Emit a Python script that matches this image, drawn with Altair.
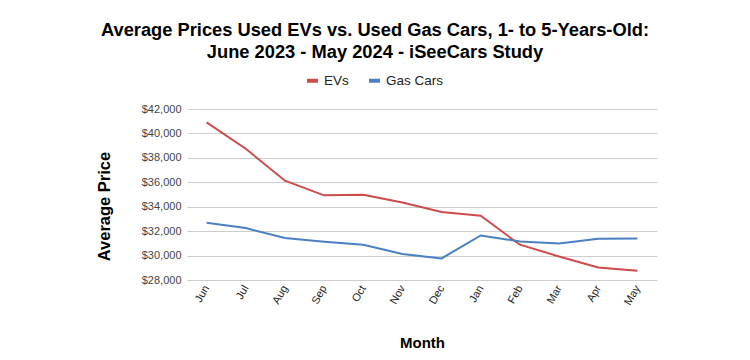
import altair as alt
import pandas as pd

months = ["Jun", "Jul", "Aug", "Sep", "Oct", "Nov", "Dec", "Jan", "Feb", "Mar", "Apr", "May"]
ev_prices = [40900, 38750, 36130, 34930, 34980, 34350, 33560, 33260, 30890, 29930, 29030, 28760]
gas_prices = [32690, 32250, 31440, 31130, 30890, 30130, 29770, 31650, 31160, 30990, 31380, 31400]
series_names = ["EVs", "Gas Cars"]
series_colors = ["#cc4b4b", "#4a7fc4"]

rows = []
for m, e, g in zip(months, ev_prices, gas_prices):
    rows.append({"Month": m, "Series": "EVs", "Price": e})
    rows.append({"Month": m, "Series": "Gas Cars", "Price": g})
df = pd.DataFrame(rows)

chart = alt.Chart(df).mark_line(strokeWidth=2).encode(
    x=alt.X("Month:N", sort=months,
            scale=alt.Scale(type="point", padding=0.5),
            axis=alt.Axis(title="Month", labelAngle=300, labelFontSize=11, labelColor="#222222",
                          labelFont="Liberation Sans", ticks=False, domain=False, grid=False,
                          titleFont="Liberation Sans", titleFontSize=15, titleFontWeight="bold",
                          titleColor="#000000", labelPadding=6, titlePadding=29)),
    y=alt.Y("Price:Q",
            scale=alt.Scale(domain=[28000, 42000], nice=False, zero=False),
            axis=alt.Axis(title="Average Price", format="$,.0f", values=list(range(28000, 42001, 2000)),
                          labelFontSize=11, labelColor="#444444", labelFont="Liberation Sans",
                          ticks=False, domain=False, gridColor="#cccccc", gridWidth=1,
                          titleFont="Liberation Sans", titleFontSize=16.5, titleFontWeight="bold",
                          titleColor="#000000", labelPadding=6, titlePadding=29, titleY=97)),
    color=alt.Color("Series:N", sort=series_names,
                    scale=alt.Scale(domain=series_names, range=series_colors),
                    legend=alt.Legend(title=None, orient="none", direction="horizontal",
                                      legendX=118, legendY=-36, symbolType="stroke",
                                      symbolStrokeWidth=4, symbolSize=120,
                                      labelFont="Liberation Sans", labelFontSize=13.5,
                                      labelColor="#222222", columnPadding=12)),
).properties(
    width=470,
    height=171,
    title=alt.Title(
        ["Average Prices Used EVs vs. Used Gas Cars, 1- to 5-Years-Old:",
         "June 2023 - May 2024 - iSeeCars Study"],
        font="Liberation Sans", fontSize=18.3, fontWeight="bold", color="#000000",
        anchor="middle", frame="group", dx=-47, offset=11, lineHeight=22),
    autosize="none",
    padding={"left": 179, "top": 101, "right": 85, "bottom": 72},
).configure_view(stroke=None)

chart.save("out.html", embed_options={"renderer": "svg", "actions": False})
